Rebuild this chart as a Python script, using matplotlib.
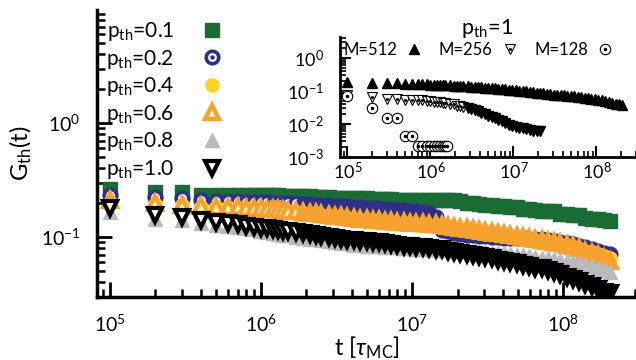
import numpy as np
import matplotlib
matplotlib.use("Agg")
import matplotlib.pyplot as plt
from matplotlib.legend_handler import HandlerTuple

plt.rcParams['font.family'] = ['Lato', 'DejaVu Sans']
plt.rcParams['mathtext.fontset'] = 'custom'
plt.rcParams['mathtext.rm'] = 'Lato'
plt.rcParams['mathtext.it'] = 'Lato:italic'

# time grid, in units of 1e5 MC steps
t_k = [1, 2, 3, 4, 5, 6, 7, 8, 9,
       10, 11, 12, 13, 14, 15,
       17, 19, 21, 23, 25, 28, 31, 34, 37,
       41, 45, 50, 55, 60, 66, 73, 80,
       88, 97, 107, 118, 130, 143, 157, 173, 190,
       209, 230, 253, 278, 306, 336, 370, 407, 448, 492, 541, 595, 655, 720, 792,
       871, 958, 1054, 1160, 1276, 1403, 1543, 1700, 1870, 2050]

g_01 = [0.264, 0.248, 0.248, 0.233, 0.233, 0.233, 0.233, 0.233, 0.233,
        0.233, 0.233, 0.232, 0.232, 0.231, 0.231,
        0.229, 0.228, 0.227, 0.226, 0.224, 0.223, 0.222, 0.221, 0.220,
        0.219, 0.219, 0.218, 0.217, 0.216, 0.215, 0.214, 0.213,
        0.212, 0.211, 0.211, 0.211, 0.211, 0.211, 0.210, 0.210, 0.210,
        0.207, 0.200, 0.198, 0.195, 0.192, 0.190, 0.187, 0.186, 0.185, 0.183, 0.176,
        0.175, 0.173, 0.171, 0.170, 0.168, 0.160, 0.158, 0.157, 0.155, 0.148, 0.144,
        0.143, 0.141, 0.139]
g_02 = [0.233, 0.224, 0.220, 0.210, 0.208, 0.207, 0.206, 0.205, 0.204,
        0.203, 0.202, 0.201, 0.200, 0.199, 0.198,
        0.197, 0.196, 0.194, 0.193, 0.192, 0.190, 0.189, 0.187, 0.186,
        0.184, 0.183, 0.181, 0.180, 0.179, 0.178, 0.176, 0.174,
        0.172, 0.170, 0.168, 0.166, 0.162, 0.150, 0.115, 0.112, 0.109,
        0.107, 0.105, 0.104, 0.103, 0.102, 0.101, 0.100, 0.099, 0.099, 0.098, 0.098,
        0.097, 0.097, 0.096, 0.095, 0.093, 0.091, 0.089, 0.087, 0.084, 0.081, 0.078,
        0.076, 0.073, 0.071]
g_04 = [0.205, 0.195, 0.190, 0.185, 0.183, 0.182, 0.180, 0.179, 0.178,
        0.177, 0.175, 0.173, 0.172, 0.170, 0.168,
        0.165, 0.162, 0.159, 0.157, 0.155, 0.152, 0.150, 0.148, 0.146,
        0.143, 0.141, 0.139, 0.137, 0.135, 0.134, 0.132, 0.131,
        0.130, 0.129, 0.128, 0.127, 0.126, 0.124, 0.122, 0.120, 0.117,
        0.115, 0.113, 0.111, 0.109, 0.107, 0.106, 0.104, 0.102, 0.100, 0.098, 0.097,
        0.095, 0.093, 0.091, 0.089, 0.087, 0.085, 0.083, 0.081, 0.079, 0.076, 0.074,
        0.071, 0.068, 0.066]
g_06 = [0.211, 0.198, 0.192, 0.186, 0.184, 0.183, 0.182, 0.181, 0.180,
        0.179, 0.178, 0.176, 0.175, 0.173, 0.171,
        0.168, 0.166, 0.163, 0.161, 0.159, 0.156, 0.154, 0.152, 0.150,
        0.147, 0.145, 0.143, 0.141, 0.140, 0.139, 0.137, 0.136,
        0.135, 0.134, 0.133, 0.132, 0.131, 0.129, 0.127, 0.125, 0.123,
        0.121, 0.119, 0.117, 0.115, 0.113, 0.111, 0.108, 0.106, 0.104, 0.102, 0.100,
        0.098, 0.096, 0.094, 0.092, 0.090, 0.088, 0.085, 0.083, 0.080, 0.076, 0.073,
        0.069, 0.065, 0.062]
g_08 = [0.166, 0.145, 0.140, 0.133, 0.128, 0.125, 0.122, 0.119, 0.117,
        0.113, 0.111, 0.109, 0.107, 0.105, 0.104,
        0.101, 0.099, 0.097, 0.096, 0.094, 0.092, 0.090, 0.089, 0.088,
        0.086, 0.085, 0.084, 0.083, 0.083, 0.082, 0.082, 0.081,
        0.080, 0.080, 0.079, 0.079, 0.078, 0.078, 0.077, 0.077, 0.076,
        0.076, 0.075, 0.075, 0.074, 0.074, 0.073, 0.072, 0.072, 0.071, 0.070, 0.069,
        0.068, 0.067, 0.066, 0.065, 0.064, 0.063, 0.062, 0.061, 0.059, 0.058, 0.056,
        0.054, 0.052, 0.049]
g_10 = [0.179, 0.156, 0.150, 0.141, 0.135, 0.132, 0.129, 0.126, 0.123,
        0.120, 0.119, 0.117, 0.116, 0.114, 0.113,
        0.110, 0.108, 0.106, 0.104, 0.102, 0.100, 0.098, 0.097, 0.095,
        0.094, 0.093, 0.092, 0.091, 0.090, 0.089, 0.087, 0.085,
        0.084, 0.083, 0.082, 0.081, 0.080, 0.079, 0.078, 0.076, 0.074,
        0.073, 0.071, 0.070, 0.068, 0.067, 0.065, 0.063, 0.062, 0.060, 0.059, 0.057,
        0.056, 0.054, 0.053, 0.051, 0.049, 0.047, 0.045, 0.043, 0.041, 0.039, 0.037,
        0.035, 0.033, 0.032]

# inset: p_th = 1, different system sizes
g_m512 = [0.186, 0.180, 0.175, 0.170, 0.167, 0.165, 0.163, 0.161, 0.158,
          0.155, 0.154, 0.152, 0.151, 0.150, 0.149,
          0.147, 0.145, 0.143, 0.141, 0.139, 0.137, 0.135, 0.133, 0.131,
          0.128, 0.126, 0.123, 0.121, 0.119, 0.117, 0.114, 0.112,
          0.110, 0.107, 0.105, 0.102, 0.100, 0.097, 0.094, 0.091, 0.088,
          0.086, 0.084, 0.082, 0.080, 0.078, 0.076, 0.074, 0.073, 0.071, 0.069, 0.068,
          0.066, 0.064, 0.063, 0.061, 0.059, 0.057, 0.055, 0.053, 0.050, 0.047, 0.044,
          0.041, 0.039, 0.037]
g_m256 = [0.075, 0.066, 0.058, 0.056, 0.055, 0.054, 0.053, 0.052, 0.050,
          0.048, 0.047, 0.046, 0.045, 0.044, 0.043,
          0.041, 0.039, 0.036, 0.034, 0.032, 0.030, 0.028, 0.026, 0.024,
          0.022, 0.020, 0.018, 0.016, 0.015, 0.013, 0.012, 0.0105,
          0.0095, 0.0088, 0.0082, 0.0077, 0.0073, 0.0069, 0.0066, 0.0063, 0.0061,
          0.0060]
t_m128 = [1, 2, 3, 4, 5, 6, 7, 8, 9, 10, 11, 12, 13, 14, 15, 16]
g_m128 = [0.068, 0.030, 0.015, 0.015, 0.0044, 0.0044, 0.0022, 0.0022, 0.0022, 0.0022,
          0.0022, 0.0022, 0.0022, 0.0022, 0.0022, 0.0022]

t = np.array(t_k) * 1e5

c_green = '#1b6b34'
c_blue = '#2e2f86'
c_yellow = '#ffd22a'
c_orange = '#f7a12e'
c_gray = '#b9babd'

# early points keep their open centres, later ones pile up into a solid band
n_open = 16
n_open_in = 20

fig = plt.figure(figsize=(6.36, 3.6), dpi=100)
ax = fig.add_axes([0.1525, 0.175, 0.8475, 0.797])

h1, = ax.plot(t, g_01, 's', ms=9.5, color=c_green, mec=c_green, ls='none')

h2a, = ax.plot(t[:n_open], g_02[:n_open], 'o', ms=9, mfc='white', mec=c_blue, mew=2.6, ls='none')
h2b, = ax.plot(t[:n_open], g_02[:n_open], 'o', ms=2.2, color=c_blue, ls='none')
ax.plot(t[n_open:], g_02[n_open:], 'o', ms=9, mfc=c_blue, mec=c_blue, mew=2.6, ls='none')

h3, = ax.plot(t, g_04, 'o', ms=9.5, color=c_yellow, ls='none')

h4, = ax.plot(t[:n_open], g_06[:n_open], '^', ms=10, mfc='#fff2c0', mec=c_orange, mew=3, ls='none')
ax.plot(t[n_open:], g_06[n_open:], '^', ms=10, mfc=c_orange, mec=c_orange, mew=3, ls='none')

h5, = ax.plot(t, g_08, '^', ms=10.5, color=c_gray, ls='none')

h6, = ax.plot(t[:n_open], g_10[:n_open], 'v', ms=10, mfc='white', mec='black', mew=3, ls='none')
ax.plot(t[n_open:], g_10[n_open:], 'v', ms=10, mfc='black', mec='black', mew=3, ls='none')

ax.set_xscale('log')
ax.set_yscale('log')
ax.set_xlim(8.2e4, 3.04e8)
ax.set_ylim(0.0298, 9.8)
for s in ['top', 'right']:
    ax.spines[s].set_visible(False)
for s in ['left', 'bottom']:
    ax.spines[s].set_linewidth(2.5)
ax.tick_params(which='both', direction='in', labelsize=14, pad=12)
ax.tick_params(which='major', length=11, width=2)
ax.tick_params(which='minor', length=6, width=1.8)
ax.set_xticks([1e5, 1e6, 1e7, 1e8])
ax.set_yticks([0.1, 1])
ax.set_xlabel(r't [$\tau_{\mathrm{MC}}$]', fontsize=17, labelpad=0)
ax.set_ylabel(r'$\mathrm{G_{th}(t)}$', fontsize=17, labelpad=5)

leg = ax.legend([h1, (h2a, h2b), h3, h4, h5, h6],
                [r'$\mathrm{p_{th}}$=0.1', r'$\mathrm{p_{th}}$=0.2', r'$\mathrm{p_{th}}$=0.4',
                 r'$\mathrm{p_{th}}$=0.6', r'$\mathrm{p_{th}}$=0.8', r'$\mathrm{p_{th}}$=1.0'],
                handler_map={tuple: HandlerTuple(ndivide=1)},
                loc='upper left', bbox_to_anchor=(106 / 636, 1 - 20 / 360),
                bbox_transform=fig.transFigure,
                frameon=False, markerfirst=False, fontsize=15, handlelength=1.2,
                handletextpad=1.2, labelspacing=0.22, borderpad=0, borderaxespad=0)

# inset
ax2 = fig.add_axes([0.535, 0.564, 0.465, 0.333])
j1, = ax2.plot(t, g_m512, '^', ms=6.5, color='black', ls='none')
t256 = t[:len(g_m256)]
k1, = ax2.plot(t256[:n_open_in], g_m256[:n_open_in], 'v', ms=6.5, mfc='white', mec='black',
               mew=0.8, ls='none')
k2, = ax2.plot(t256[:n_open_in], g_m256[:n_open_in], 'o', ms=1.2, color='black', ls='none')
ax2.plot(t256[n_open_in:], g_m256[n_open_in:], 'v', ms=6.5, color='black', ls='none')
i1, = ax2.plot(np.array(t_m128) * 1e5, g_m128, 'o', ms=7.5, mfc='white', mec='black',
               mew=0.8, ls='none')
i2, = ax2.plot(np.array(t_m128) * 1e5, g_m128, 'o', ms=1.5, color='black', ls='none')
ax2.set_xscale('log')
ax2.set_yscale('log')
ax2.set_xlim(8.2e4, 3.0e8)
ax2.set_ylim(1e-3, 4.3)
for s in ['top', 'right']:
    ax2.spines[s].set_visible(False)
for s in ['left', 'bottom']:
    ax2.spines[s].set_linewidth(2)
ax2.tick_params(which='both', direction='in', labelsize=13)
ax2.tick_params(axis='y', pad=12)
ax2.tick_params(axis='x', pad=3)
ax2.tick_params(which='major', length=8, width=1.5)
ax2.tick_params(which='minor', length=4, width=1.2)
ax2.set_xticks([1e5, 1e6, 1e7, 1e8])
ax2.set_yticks([1e-3, 1e-2, 1e-1, 1])
fig.text(487 / 636, 1 - 28 / 360, r'$\mathrm{p_{th}}$=1', fontsize=15.5, ha='center', va='center')
ax2.legend([j1, (k1, k2), (i1, i2)], ['M=512', 'M=256', 'M=128'],
           handler_map={tuple: HandlerTuple(ndivide=1)},
           loc='upper left', bbox_to_anchor=(343 / 636, 1 - 42 / 360),
           bbox_transform=fig.transFigure, ncol=3, frameon=False,
           markerfirst=False, fontsize=12, handlelength=0.9, handletextpad=0.6,
           columnspacing=1.0, borderpad=0, borderaxespad=0)

fig.savefig('out.png', dpi=100)
